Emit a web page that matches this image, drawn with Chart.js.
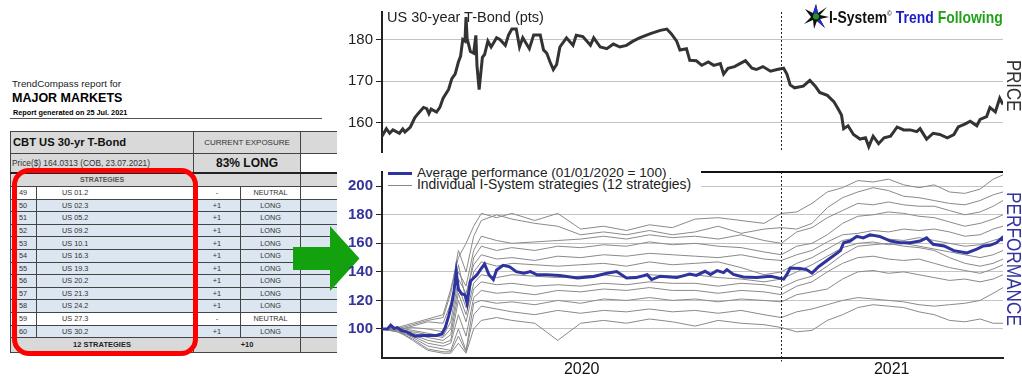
<!DOCTYPE html>
<html>
<head>
<meta charset="utf-8">
<script src="https://cdn.jsdelivr.net/npm/chart.js@4.4.1/dist/chart.umd.min.js"></script>
<style>
  body { margin: 0; width: 1022px; height: 376px; background: #fff; position: relative; overflow: hidden;
         font-family: "Liberation Sans", Arial, sans-serif; color: #222; }
  .abs { position: absolute; white-space: nowrap; }
  canvas { position: absolute; }
  #report { position: absolute; left: 10px; top: 131px; border-collapse: collapse; table-layout: fixed; width: 326px; color: #333; }
  #report td { border: 1px solid #444; padding: 0; overflow: hidden; white-space: nowrap; line-height: 1; }
  #report td.last { border-right: none; }
  .gray { background: #d9d9d9; }
  .blue { background: #dce6f1; }
  .white { background: #fff; }
  .vert { writing-mode: vertical-rl; font-size: 21px; line-height: 21px; transform-origin: top left; }
</style>
</head>
<body>

<div class="abs" style="left:12px;top:79px;font-size:9.8px;line-height:1;">TrendCompass report for</div>
<div class="abs" style="left:12px;top:92px;font-size:12.5px;font-weight:bold;line-height:1;color:#000;">MAJOR MARKETS</div>
<div class="abs" style="left:13px;top:109px;font-size:7.3px;font-weight:bold;line-height:1;color:#000;">Report generated on 25 Jul. 2021</div>
<div class="abs" style="left:10px;top:118px;width:312px;height:1px;background:#555;"></div>

<table id="report"></table>

<div class="abs" style="left:12px;top:167.5px;width:186px;height:188px;box-sizing:border-box;border:5px solid #f00;border-radius:17px;"></div>

<svg class="abs" style="left:0;top:0;" width="1022" height="376">
  <polygon points="293,247 330,247 330,226 359.5,258.5 330,291 330,270 293,270" fill="#13a10e"/>
</svg>

<canvas id="priceChart" width="692" height="164" style="left:330px;top:0;"></canvas>
<canvas id="perfChart" width="692" height="216" style="left:330px;top:160px;"></canvas>

<div class="abs" style="left:387px;top:9.5px;font-size:14.5px;line-height:1;color:#222;">US 30-year T-Bond (pts)</div>

<div class="abs" style="left:383px;top:163px;width:318px;height:31px;background:#fff;"></div>
<div class="abs" style="left:388px;top:171.5px;width:24px;height:3px;background:#2f33a0;"></div>
<div class="abs" style="left:388px;top:184.5px;width:24px;height:1px;background:#888;"></div>
<div class="abs" style="left:417px;top:165.5px;font-size:13.6px;line-height:1;color:#222;">Average performance (01/01/2020 = 100)</div>
<div class="abs" style="left:417px;top:178px;font-size:13.9px;line-height:1;color:#222;">Individual I-System strategies (12 strategies)</div>

<svg class="abs" style="left:803px;top:3px;" width="26" height="27">
  <polygon points="13,1 15,10 24,4 17,12 26,14 17,16 22,25 14,18 11,26 10,17 1,21 8,14 2,6 10,10" fill="#111"/>
  <polygon points="13,1 15,10 12,12 10,10" fill="#2a2ad0"/>
  <polygon points="17,16 22,25 14,18" fill="#2a2ad0"/>
  <circle cx="13" cy="13.5" r="3" fill="#1d9a1d"/>
</svg>
<div class="abs" style="left:829px;top:9px;font-size:17px;font-weight:bold;line-height:1;transform:scaleX(0.82);transform-origin:left top;">
  <span style="color:#111;">I-System</span><sup style="font-size:8px;color:#333;">©</sup>
  <span style="color:#1c1cc8;">Trend</span> <span style="color:#22a01a;">Following</span>
</div>

<div class="abs vert" style="left:1004px;top:60px;color:#333;transform:scaleY(0.8);">PRICE</div>
<div class="abs vert" style="left:1004px;top:192px;color:#3333a0;transform:scaleY(0.82);">PERFORMANCE</div>

<script>
// --- report table ---
const stratIds = [49, 50, 51, 52, 53, 54, 55, 56, 57, 58, 59, 60];
const stratNames = ["US 01.2", "US 02.3", "US 05.2", "US 09.2", "US 10.1", "US 16.3",
                    "US 19.3", "US 20.2", "US 21.3", "US 24.2", "US 27.3", "US 30.2"];
const stratSignals = ["-", "+1", "+1", "+1", "+1", "+1", "+1", "+1", "+1", "+1", "-", "+1"];
const stratStates = ["NEUTRAL", "LONG", "LONG", "LONG", "LONG", "LONG",
                     "LONG", "LONG", "LONG", "LONG", "NEUTRAL", "LONG"];

// --- chart data (x = days since 01/01/2020) ---
const priceDays = [0, 4, 7, 10, 16, 19, 21, 26, 30, 33, 38, 41, 43, 45, 50, 53, 56, 61, 64, 67, 70, 72, 74, 76, 77, 78,
  81, 84, 86, 87, 89, 92, 94, 97, 100, 105, 108, 113, 116, 119, 123, 126, 129, 135, 139, 145, 148, 151, 154, 157,
  160, 163, 169, 175, 178, 184, 191, 194, 200, 206, 212, 218, 224, 230, 236, 246, 255, 261, 265, 270, 273, 279, 282,
  288, 293, 299, 304, 310, 313, 317, 323, 328, 333, 339, 343, 349, 356, 362, 368, 371, 374, 378, 386, 392, 397, 401,
  408, 414, 418, 421, 423, 427, 432, 438, 443, 446, 450, 455, 460, 466, 472, 478, 484, 490, 493, 499, 505, 511, 518,
  524, 528, 534, 539, 545, 548, 554, 557, 562, 566, 569];
const priceValues = [156.8, 158.6, 157.5, 158.3, 157.5, 158.5, 157.8, 159.0, 161.2, 162.2, 163.7, 163.4, 162.2, 163.3,
  162.6, 163.7, 165.9, 168.0, 170.6, 171.7, 174.6, 176.0, 180.0, 179.6, 185.4, 180.2, 177.1, 176.7, 181.0, 173.8,
  168.0, 175.7, 176.4, 179.6, 178.2, 180.4, 180.0, 178.6, 181.1, 182.5, 182.5, 178.2, 180.4, 177.8, 181.1, 181.1,
  177.5, 176.7, 174.6, 172.8, 174.0, 178.2, 180.4, 178.6, 181.0, 180.7, 178.6, 180.4, 178.2, 177.8, 178.9, 178.2,
  178.6, 179.6, 180.4, 181.4, 182.2, 182.5, 181.4, 179.6, 177.5, 177.8, 175.0, 174.9, 173.8, 174.6, 173.8, 174.2,
  171.7, 173.1, 173.5, 174.2, 174.9, 173.1, 172.8, 173.5, 172.4, 172.8, 173.1, 171.7, 169.1, 168.4, 168.8, 170.2,
  168.8, 167.3, 166.6, 165.1, 163.3, 161.9, 158.6, 159.3, 157.2, 156.1, 156.4, 154.3, 156.8, 155.0, 156.4, 156.8,
  159.0, 158.3, 158.3, 157.9, 158.6, 156.1, 157.5, 157.2, 156.4, 157.2, 159.0, 159.7, 160.4, 159.3, 160.8, 161.5,
  163.7, 162.6, 165.9, 164.4];

const avgDays = [0, 5, 8, 11, 14, 18, 23, 30, 38, 50, 55, 58, 61, 64, 66, 68, 70, 73, 76, 78, 81, 84, 87, 91, 94, 98,
  102, 105, 111, 117, 123, 130, 136, 142, 151, 163, 179, 194, 206, 215, 224, 233, 243, 247, 255, 270, 282, 288, 296,
  301, 307, 313, 316, 322, 331, 343, 356, 362, 368, 371, 374, 383, 389, 394, 400, 408, 414, 420, 423, 429, 435, 441,
  447, 456, 466, 475, 484, 493, 499, 505, 515, 524, 536, 545, 551, 557, 563, 568, 569];
const avgValues = [100, 100, 102.7, 100.4, 101, 98.9, 97.8, 95, 95.5, 95.5, 96.7, 101, 109, 117.9, 126.8, 140, 128,
  124.6, 124, 117.9, 133.5, 135.7, 138, 142.4, 145.5, 138, 134.6, 141.3, 144.6, 143.5, 140.2, 139, 140.2, 138, 138,
  137.5, 135.7, 136.8, 139, 140.2, 135.7, 136, 138, 134.6, 137, 136, 138.5, 137.5, 140.4, 138.2, 140.9, 139.5, 141.6,
  138.2, 136.4, 136, 137, 136, 134.9, 138.2, 142.7, 142.3, 141.6, 139.1, 143.6, 148.2, 151.5, 154.9, 160.4, 161.6,
  164.9, 163.8, 166, 164.9, 161.6, 160.4, 160.4, 161.6, 163.8, 159.3, 158.2, 154.9, 153.3, 155.9, 158.2, 158.6, 160.4,
  163.8, 161.6];

const stratDays = [0, 14, 28, 42, 56, 63, 70, 77, 84, 91, 105, 119, 140, 161, 182, 203, 224, 245, 266, 287,
  308, 329, 350, 366, 380, 394, 408, 422, 436, 450, 464, 478, 492, 506, 520, 534, 548, 560, 569];
const strat01 = [100, 101, 104, 107, 110, 128, 150, 160, 172, 181, 178, 181, 176, 181, 170, 172, 169, 173, 171, 177,
  178, 176, 174, 181, 182, 188, 196, 199, 204, 203, 205, 201, 199, 201, 196, 195, 198, 205, 208];
const strat02 = [100, 100, 103, 106, 108, 125, 155, 140, 165, 176, 180, 177, 174, 172, 166, 168, 166, 169, 166, 168,
  172, 167, 170, 171, 170, 174, 185, 192, 196, 199, 197, 193, 192, 190, 188, 187, 190, 194, 196];
const strat03 = [100, 99, 102, 105, 104, 118, 140, 130, 155, 165, 162, 160, 161, 162, 163, 165, 163, 166, 164, 165,
  163, 166, 162, 160, 168, 171, 178, 183, 188, 187, 189, 187, 186, 186, 183, 180, 182, 186, 190];
const strat04 = [100, 100, 101, 100, 98, 112, 145, 120, 150, 158, 155, 157, 155, 158, 157, 159, 158, 161, 159, 160,
  158, 157, 154, 152, 158, 160, 166, 174, 179, 180, 182, 181, 179, 178, 175, 172, 174, 177, 180];
const strat05 = [100, 101, 99, 97, 95, 105, 135, 125, 145, 152, 149, 150, 148, 151, 150, 152, 151, 153, 152, 151,
  150, 152, 149, 148, 152, 155, 161, 166, 167, 169, 168, 170, 169, 170, 168, 165, 166, 170, 172];
const strat06 = [100, 100, 98, 96, 94, 100, 130, 115, 140, 147, 144, 146, 145, 144, 145, 146, 144, 147, 145, 146,
  147, 143, 138, 140, 146, 150, 156, 162, 164, 165, 163, 162, 164, 162, 160, 158, 159, 162, 164];
const strat07 = [100, 99, 97, 94, 92, 96, 125, 110, 132, 138, 136, 138, 137, 136, 137, 138, 136, 138, 137, 138,
  136, 135, 133, 135, 140, 145, 151, 157, 160, 161, 159, 160, 158, 156, 154, 152, 150, 152, 155];
const strat08 = [100, 100, 96, 92, 90, 92, 120, 105, 128, 133, 131, 132, 130, 131, 130, 132, 131, 133, 132, 132,
  130, 132, 131, 129, 134, 137, 144, 152, 158, 159, 160, 158, 157, 155, 150, 146, 144, 146, 149];
const strat09 = [100, 98, 95, 90, 88, 90, 110, 95, 122, 127, 125, 126, 124, 127, 126, 128, 127, 129, 127, 127,
  125, 127, 126, 124, 130, 133, 140, 146, 150, 151, 149, 148, 149, 146, 143, 141, 139, 142, 145];
const strat10 = [100, 99, 94, 88, 86, 85, 100, 85, 118, 120, 118, 119, 117, 120, 118, 121, 120, 122, 120, 121,
  119, 121, 120, 119, 124, 126, 128, 135, 140, 141, 139, 140, 138, 136, 134, 135, 133, 135, 138];
const strat11 = [100, 98, 93, 86, 84, 84, 95, 84, 110, 116, 114, 112, 110, 113, 111, 113, 112, 114, 112, 113,
  111, 113, 110, 108, 112, 114, 117, 120, 122, 121, 120, 119, 117, 116, 117, 118, 120, 125, 129];
const strat12 = [100, 99, 92, 85, 83, 83, 90, 83, 100, 106, 108, 106, 104, 92, 104, 106, 104, 107, 105, 102,
  106, 104, 103, 101, 98, 99, 106, 110, 115, 117, 116, 115, 112, 110, 106, 105, 107, 104, 104];
const strategies = [strat01, strat02, strat03, strat04, strat05, strat06,
                    strat07, strat08, strat09, strat10, strat11, strat12];

const priceTicks = [160, 170, 180];
const perfTicks = [100, 120, 140, 160, 180, 200];
const yearLabels = ["2020", "2021"];
const yearLabelDays = [183, 467];
const yearStartDay = 366;
const lastDay = 569;

// build the report table
const table = document.getElementById("report");
let html = `<colgroup><col style="width:26px"><col style="width:157px"><col style="width:47px"><col style="width:60px"><col style="width:36px"></colgroup>`;
html += `<tr style="height:22px">
  <td colspan="2" class="gray" style="font-size:11.2px;font-weight:bold;color:#111;padding-left:2px;">CBT US 30-yr T-Bond</td>
  <td colspan="2" class="gray" style="font-size:8px;text-align:center;">CURRENT EXPOSURE</td>
  <td class="gray last"></td></tr>`;
html += `<tr style="height:19px">
  <td colspan="2" class="gray" style="font-size:8.3px;padding-left:1px;border-bottom:2px solid #222;">Price($) 164.0313 (COB, 23.07.2021)</td>
  <td colspan="2" class="gray" style="font-size:12px;font-weight:bold;text-align:center;color:#111;border-bottom:2px solid #222;">83% LONG</td>
  <td class="white last" style="border-bottom:2px solid #222;"></td></tr>`;
html += `<tr style="height:14px">
  <td colspan="2" class="gray" style="font-size:7px;font-weight:bold;text-align:center;color:#555;">STRATEGIES</td>
  <td colspan="2" class="gray"></td><td class="gray last"></td></tr>`;
stratIds.forEach((id, i) => {
  const bg = stratStates[i] === "LONG" ? "blue" : "white";
  html += `<tr style="height:12.6px;font-size:7.3px;">
    <td class="${bg}" style="padding-left:8px;">${id}</td>
    <td class="${bg}" style="padding-left:25px;">${stratNames[i]}</td>
    <td class="${bg}" style="text-align:center;">${stratSignals[i]}</td>
    <td class="${bg}" style="text-align:center;">${stratStates[i]}</td>
    <td class="${bg} last"></td></tr>`;
});
html += `<tr style="height:15px">
  <td colspan="2" class="gray" style="font-size:7.5px;font-weight:bold;text-align:center;color:#222;">12 STRATEGIES</td>
  <td colspan="2" class="gray" style="font-size:7.5px;font-weight:bold;text-align:center;color:#222;">+10</td>
  <td class="gray last"></td></tr>`;
table.innerHTML = html;

// --- charts ---
const pts = (xs, ys) => xs.map((x, i) => ({ x: x, y: ys[i] }));

const yearLine = {
  id: "yearLine",
  afterDatasetsDraw(chart, args, opts) {
    const { ctx, chartArea, scales } = chart;
    const x = Math.round(scales.x.getPixelForValue(yearStartDay)) + 0.5;
    ctx.save();
    if (opts.topRule) {
      ctx.strokeStyle = "#111";
      ctx.lineWidth = 2;
      ctx.beginPath();
      ctx.moveTo(chartArea.left, chartArea.top);
      ctx.lineTo(chartArea.right, chartArea.top);
      ctx.stroke();
    }
    ctx.strokeStyle = "#222";
    ctx.lineWidth = 1;
    ctx.setLineDash([2, 2]);
    ctx.beginPath();
    ctx.moveTo(x, chartArea.top);
    ctx.lineTo(x, chartArea.bottom + (opts.extra || 0));
    ctx.stroke();
    ctx.restore();
  }
};

function yAxis(ticks, min, max, color, weight) {
  return {
    type: "linear",
    position: "left",
    min: min,
    max: max,
    afterBuildTicks: (axis) => { axis.ticks = ticks.map(v => ({ value: v })); },
    afterFit: (axis) => { axis.width = 52; },
    grid: { color: "#c4c4c4", lineWidth: 1, tickLength: 6, tickColor: "#222" },
    border: { color: "#222", width: 2 },
    ticks: { color: color, padding: 3, font: { family: "Liberation Sans", size: 15, weight: weight } }
  };
}

Chart.defaults.animation = false;

new Chart(document.getElementById("priceChart"), {
  type: "line",
  data: {
    datasets: [{
      data: pts(priceDays, priceValues),
      borderColor: "#333",
      borderWidth: 3,
      pointRadius: 0,
      tension: 0
    }]
  },
  options: {
    responsive: false,
    devicePixelRatio: 1,
    layout: { padding: { top: 8, right: 19, bottom: 2, left: 0 } },
    plugins: { legend: { display: false }, tooltip: { enabled: false }, yearLine: { extra: 0 } },
    scales: {
      x: { type: "linear", min: 0, max: lastDay, display: false },
      y: yAxis(priceTicks, 153, 186.6, "#222", "normal")
    }
  },
  plugins: [yearLine]
});

const perfSets = [{
  data: pts(avgDays, avgValues),
  borderColor: "#2f33a0",
  borderWidth: 3,
  pointRadius: 0,
  tension: 0,
  order: 0
}];
strategies.forEach(s => {
  perfSets.push({
    data: pts(stratDays, s),
    borderColor: "#8a8a8a",
    borderWidth: 1,
    pointRadius: 0,
    tension: 0,
    order: 1
  });
});

new Chart(document.getElementById("perfChart"), {
  type: "line",
  data: { datasets: perfSets },
  options: {
    responsive: false,
    devicePixelRatio: 1,
    layout: { padding: { top: 2, right: 19, bottom: 0, left: 0 } },
    plugins: { legend: { display: false }, tooltip: { enabled: false }, yearLine: { extra: 4, topRule: true } },
    scales: {
      x: {
        type: "linear", min: 0, max: lastDay,
        afterBuildTicks: (axis) => { axis.ticks = yearLabelDays.map(v => ({ value: v })); },
        afterFit: (axis) => { axis.height = 18.5; },
        grid: { display: true, drawOnChartArea: false, drawTicks: false },
        border: { color: "#222", width: 2 },
        ticks: {
          autoSkip: false, maxRotation: 0, padding: 2, color: "#111",
          font: { family: "Liberation Sans", size: 16 },
          callback: (value, index) => yearLabels[index]
        }
      },
      y: yAxis(perfTicks, 80, 210, "#333399", "bold")
    }
  },
  plugins: [yearLine]
});
</script>
</body>
</html>
